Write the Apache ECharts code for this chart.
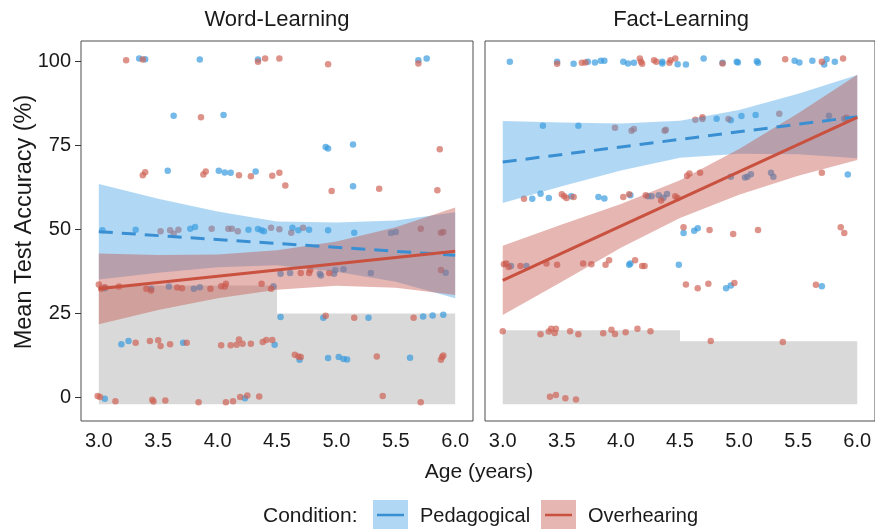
<!DOCTYPE html>
<html>
<head>
<meta charset="utf-8">
<script src="https://cdn.jsdelivr.net/npm/echarts@6/dist/echarts.min.js"></script>
<style>html,body{margin:0;padding:0;background:#fff;}#c{width:875px;height:529px;}</style>
</head>
<body>
<div id="c"></div>
<script>
// ---- data ----
const panels = ['Word-Learning', 'Fact-Learning'];
const conditions = ['Pedagogical', 'Overhearing'];
const ageTicks = [3.0, 3.5, 4.0, 4.5, 5.0, 5.5, 6.0];
const accTicks = [0, 25, 50, 75, 100];

// chance-level steps
const chanceAges = [3.0, 4.5, 6.0];
const wordChance = [33.3, 25];
const factChance = [20, 16.7];
const chanceFloor = -2;

// regression lines (endpoints read at age 3 and 6)
const fitAges = [3.0, 6.0];
const wordPedFit = [49.3, 42.3];
const wordOveFit = [32.3, 43.5];
const factPedFit = [70.0, 83.5];
const factOveFit = [34.8, 83.3];

// confidence bands
const bandAges = [3.0, 3.5, 4.0, 4.5, 5.0, 5.5, 6.0];
const wordPedUpper = [63.5, 59.1, 55.3, 52.3, 52.0, 52.6, 55.1];
const wordPedLower = [35.1, 37.1, 38.7, 39.3, 37.4, 34.4, 29.5];
const wordOveUpper = [42.8, 42.4, 42.5, 43.8, 46.4, 50.6, 56.5];
const wordOveLower = [21.8, 26.0, 29.5, 32.0, 33.2, 32.6, 30.5];
const factPedUpper = [82.2, 81.8, 81.5, 82.3, 85.5, 90.3, 95.9];
const factPedLower = [57.8, 62.8, 67.5, 71.3, 72.5, 72.3, 71.1];
const factOveUpper = [45.1, 51.4, 57.5, 64.6, 73.9, 84.5, 96.0];
const factOveLower = [24.5, 34.4, 44.5, 53.4, 60.3, 65.9, 70.6];

// individual (jittered) points [age, accuracy]
const wordPedPoints = [
  [3.34,100.8],[3.39,100.6],[3.85,100.5],[4.34,100.5],[5.69,100.3],[5.76,100.8],
  [3.63,83.8],[4.05,84.0],
  [4.91,74.5],[4.93,74.0],[5.14,75.2],
  [3.58,67.4],[4.01,67.4],[4.06,66.9],[4.11,66.8],[4.32,67.2],[5.14,62.8],
  [3.03,49.7],[3.31,49.9],[3.77,50.2],[3.81,50.7],[4.26,49.9],[4.34,50.1],[4.37,49.7],[4.39,49.4],
  [4.63,50.5],[4.68,49.7],[4.77,49.9],[4.93,49.7],[5.15,49.0],[5.46,48.9],[5.50,49.2],
  [4.53,36.8],[4.61,37.0],[4.86,36.8],[4.87,36.3],[4.98,36.8],[4.99,37.8],[5.06,38.1],[5.29,37.0],[5.92,37.1],
  [3.05,32.5],[3.44,32.3],[3.59,33.0],[3.80,32.3],[3.85,32.8],[4.47,33.1],
  [4.53,23.9],[4.89,23.7],[5.27,23.7],[5.73,24.1],[5.81,24.4],[5.90,24.6],
  [3.19,15.8],[3.25,16.8],[3.71,16.3],[4.48,15.7],
  [4.69,11.2],[4.93,11.7],[5.02,12.0],[5.06,11.4],[5.09,11.3],[5.62,11.8],
  [3.05,-0.4],[4.23,-0.2]
];
const wordOvePoints = [
  [3.23,100.3],[3.37,100.5],[4.34,99.8],[4.40,100.8],[4.52,100.8],[4.93,99.1],[5.69,99.3],
  [3.86,83.3],[5.87,73.8],
  [3.37,66.1],[3.39,67.0],[3.88,66.3],[3.90,67.2],[4.18,66.1],[4.28,65.8],[4.46,65.9],[4.52,66.8],
  [4.57,63.0],[4.96,61.4],[5.36,62.1],[5.85,61.6],
  [3.52,49.4],[3.60,49.7],[3.63,48.7],[3.67,49.9],[3.95,50.2],[4.09,50.2],[4.12,50.2],[4.17,49.4],
  [4.45,50.5],[4.52,50.0],[4.62,49.0],[4.72,50.5],[5.71,50.2],[5.88,49.0],[5.90,49.2],
  [4.70,37.0],[4.77,37.0],[4.78,37.9],[4.94,37.0],[5.88,37.9],
  [3.00,33.6],[3.02,32.3],[3.05,32.8],[3.17,33.0],[3.40,32.3],[3.44,31.8],[3.66,32.7],[3.70,32.5],
  [3.94,32.3],[4.03,33.1],[4.07,33.8],[4.06,33.0],[4.37,33.8],[4.45,32.3],
  [4.91,24.3],[5.15,23.7],[5.65,23.7],
  [3.31,16.3],[3.43,16.8],[3.50,17.0],[3.52,15.3],[3.60,15.8],[3.74,16.3],[4.03,15.5],[4.11,15.5],
  [4.16,15.7],[4.18,17.2],[4.21,16.0],[4.28,16.0],[4.38,16.5],[4.41,17.1],[4.46,17.1],
  [4.65,12.7],[4.68,12.2],[4.70,12.0],[5.34,12.2],[5.88,11.2],[5.89,12.0],[5.90,12.5],
  [2.99,0.4],[3.01,0.1],[3.14,-1.1],[3.45,-0.7],[3.46,-1.2],[3.56,-0.9],[3.84,-1.4],[4.07,-1.4],
  [4.13,-1.1],[4.19,0.1],[4.25,0.6],[4.35,0.3],[5.39,0.4],[5.71,-1.4]
];
const factPedPoints = [
  [3.06,99.8],[3.46,99.8],[3.60,99.2],[3.72,99.8],[3.78,99.6],[3.83,100.1],[3.86,100.1],[4.02,99.8],
  [4.06,99.3],[4.11,99.5],[4.35,99.8],[4.35,99.3],[4.48,99.1],[4.55,99.0],[4.70,100.8],[4.86,99.5],
  [4.98,99.8],[4.99,99.6],[5.15,100.0],[5.16,99.5],[5.47,100.1],[5.51,99.6],[5.62,100.1],[5.72,99.0],
  [5.74,100.6],[5.81,99.8],
  [3.34,80.8],[3.64,80.8],[4.81,82.9],[4.93,82.4],[5.02,83.7],[5.14,84.0],[5.76,83.8],[5.89,82.9],
  [4.93,65.6],[5.05,65.4],[5.07,65.6],[5.10,66.4],[5.27,66.8],[5.29,65.6],[5.92,66.3],
  [3.25,59.1],[3.32,60.6],[3.39,59.3],[3.58,59.8],[3.81,59.6],[3.86,59.2],[4.08,60.1],[4.23,59.8],
  [4.26,59.8],[4.32,60.1],[4.36,59.4],[4.39,60.5],
  [4.53,48.9],[4.62,49.6],[4.65,50.3],
  [3.07,39.1],[3.20,39.1],[4.07,39.5],[4.08,39.8],[4.49,39.5],
  [4.89,32.5],[4.93,33.3],[5.70,33.1]
];
const factOvePoints = [
  [3.46,99.2],[3.67,99.5],[3.70,99.6],[4.16,100.8],[4.17,99.8],[4.18,99.2],[4.28,100.3],[4.30,99.8],
  [4.41,99.5],[4.42,100.3],[4.46,100.8],[4.86,99.3],[5.39,100.6],[5.70,99.8],[5.88,100.8],
  [3.95,80.2],[4.09,79.3],[4.11,79.8],[4.37,79.3],[4.38,79.6],[4.63,82.6],[4.69,82.8],[4.69,83.3],
  [4.91,82.8],[5.34,84.4],[5.91,83.2],
  [4.56,65.9],[4.58,66.6],[4.67,66.8],[5.70,66.8],
  [3.18,59.1],[3.50,60.4],[3.52,59.8],[3.54,59.3],[3.60,59.6],[4.02,59.6],[4.07,60.4],[4.21,60.1],
  [4.34,58.6],[4.46,59.8],[4.48,59.3],
  [4.53,50.6],[4.75,49.8],[4.95,48.6],[5.16,49.8],[5.86,50.6],[5.89,48.9],
  [3.01,39.6],[3.03,39.8],[3.05,38.8],[3.15,39.1],[3.37,39.8],[3.46,39.5],[3.68,39.8],[3.75,39.6],
  [3.87,39.5],[3.90,40.8],[4.12,40.8],[4.18,39.1],[4.20,39.1],
  [4.55,33.6],[4.65,32.5],[4.74,33.8],[4.96,34.0],[5.65,33.5],
  [3.00,19.7],[3.32,18.8],[3.39,19.6],[3.41,20.4],[3.44,19.2],[3.45,20.4],[3.57,19.7],[3.64,18.8],
  [3.85,19.1],[3.92,20.1],[3.95,18.9],[4.04,19.4],[4.14,20.4],[4.25,19.7],[4.76,16.8],[5.37,16.5],
  [3.40,0.2],[3.45,0.7],[3.53,-0.2],[3.62,-0.6]
];

// ---- styles ----
const FONT = "'Liberation Sans',Arial,Helvetica,sans-serif";
const C = {
  pedPt: 'rgba(52,152,222,0.85)', ovePt: 'rgba(206,96,84,0.85)',
  pedLine: '#3a8fd3', oveLine: '#c9513f',
  pedBand: 'rgba(66,162,228,0.42)', oveBand: 'rgba(196,80,72,0.42)',
  chance: '#d9d9d9', text: '#1a1a1a'
};

function chanceSeries(g, levels) {
  return {
    type: 'custom', xAxisIndex: g, yAxisIndex: g, z: 1, silent: true, clip: false,
    data: [[chanceAges[0], chanceFloor]],
    renderItem: function (params, api) {
      const pts = [api.coord([chanceAges[0], chanceFloor])];
      for (let i = 0; i < levels.length; i++) {
        pts.push(api.coord([chanceAges[i], levels[i]]));
        pts.push(api.coord([chanceAges[i + 1], levels[i]]));
      }
      pts.push(api.coord([chanceAges[chanceAges.length - 1], chanceFloor]));
      return { type: 'polygon', shape: { points: pts }, style: { fill: C.chance } };
    }
  };
}
function bandSeries(g, upper, lower, fill) {
  return {
    type: 'custom', xAxisIndex: g, yAxisIndex: g, z: 3, silent: true, clip: false,
    data: [[bandAges[0], lower[0]]],
    renderItem: function (params, api) {
      const pts = [];
      for (let i = 0; i < bandAges.length; i++) pts.push(api.coord([bandAges[i], upper[i]]));
      for (let i = bandAges.length - 1; i >= 0; i--) pts.push(api.coord([bandAges[i], lower[i]]));
      return { type: 'polygon', shape: { points: pts }, style: { fill: fill } };
    }
  };
}
function pointSeries(g, name, pts, color) {
  return { type: 'scatter', name: name, xAxisIndex: g, yAxisIndex: g, z: 2, symbolSize: 6.5,
    itemStyle: { color: color }, data: pts, silent: true };
}
function fitSeries(g, name, ys, color, dashed) {
  return { type: 'line', name: name, xAxisIndex: g, yAxisIndex: g, z: 4, symbol: 'none', silent: true,
    lineStyle: { color: color, width: 3, type: dashed ? [14, 9] : 'solid' },
    data: fitAges.map((a, i) => [a, ys[i]]) };
}

const gridTop = 41, gridH = 380;
const grids = [
  { left: 81, top: gridTop, width: 392, height: gridH, show: true, borderColor: '#4d4d4d', borderWidth: 1, backgroundColor: '#fff' },
  { left: 485, top: gridTop, width: 393, height: gridH, show: true, borderColor: '#4d4d4d', borderWidth: 1, backgroundColor: '#fff' }
];
const xAxes = [0, 1].map(g => ({
  type: 'value', gridIndex: g, min: 2.85, max: 6.15,
  axisLine: { show: false, onZero: false }, splitLine: { show: false },
  axisTick: { show: false, customValues: ageTicks },
  axisLabel: { customValues: ageTicks, formatter: v => v.toFixed(1), fontFamily: FONT, fontSize: 20, color: C.text, margin: 10 }
}));
const yAxes = [0, 1].map(g => ({
  type: 'value', gridIndex: g, min: -7, max: 106,
  axisLine: { show: false, onZero: false }, splitLine: { show: false },
  axisTick: { show: g === 0, length: 6, lineStyle: { color: '#333' }, customValues: accTicks },
  axisLabel: { show: g === 0, customValues: accTicks, fontFamily: FONT, fontSize: 20, color: C.text, margin: 10 }
}));

const series = [
  chanceSeries(0, wordChance), chanceSeries(1, factChance),
  pointSeries(0, conditions[0], wordPedPoints, C.pedPt),
  pointSeries(0, conditions[1], wordOvePoints, C.ovePt),
  pointSeries(1, conditions[0], factPedPoints, C.pedPt),
  pointSeries(1, conditions[1], factOvePoints, C.ovePt),
  bandSeries(0, wordPedUpper, wordPedLower, C.pedBand),
  bandSeries(0, wordOveUpper, wordOveLower, C.oveBand),
  bandSeries(1, factPedUpper, factPedLower, C.pedBand),
  bandSeries(1, factOveUpper, factOveLower, C.oveBand),
  fitSeries(0, conditions[0], wordPedFit, C.pedLine, true),
  fitSeries(0, conditions[1], wordOveFit, C.oveLine, false),
  fitSeries(1, conditions[0], factPedFit, C.pedLine, true),
  fitSeries(1, conditions[1], factOveFit, C.oveLine, false)
];

const txt = (x, y, text, size, align, extra) => Object.assign({
  type: 'text', x: x, y: y,
  style: { text: text, fill: C.text, font: size + 'px ' + FONT, textAlign: align || 'center', textVerticalAlign: 'middle' }
}, extra || {});

const graphic = [
  txt(277, 20, panels[0], 22),
  txt(681, 20, panels[1], 22),
  txt(479, 472, 'Age (years)', 21),
  txt(25, 222, 'Mean Test Accuracy (%)', 23.5, 'center', { rotation: Math.PI / 2 }),
  txt(263, 516, 'Condition:', 21, 'left'),
  { type: 'rect', shape: { x: 373, y: 500, width: 35, height: 32 }, style: { fill: C.pedBand } },
  { type: 'line', shape: { x1: 377, y1: 515, x2: 404, y2: 515 }, style: { stroke: C.pedLine, lineWidth: 2.5 } },
  txt(420, 516, conditions[0], 20, 'left'),
  { type: 'rect', shape: { x: 541, y: 500, width: 35, height: 32 }, style: { fill: C.oveBand } },
  { type: 'line', shape: { x1: 545, y1: 515, x2: 572, y2: 515 }, style: { stroke: C.oveLine, lineWidth: 2.5 } },
  txt(588, 516, conditions[1], 20, 'left')
];

const chart = echarts.init(document.getElementById('c'), null, { renderer: 'canvas' });
chart.setOption({
  animation: false,
  backgroundColor: '#fff',
  grid: grids, xAxis: xAxes, yAxis: yAxes,
  series: series,
  graphic: graphic
});
</script>
</body>
</html>
